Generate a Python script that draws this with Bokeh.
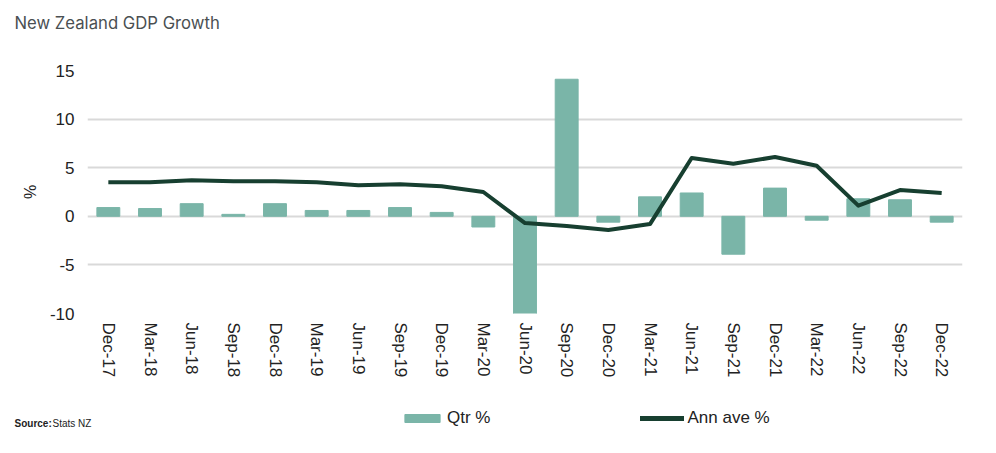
from bokeh.plotting import figure
from bokeh.layouts import column
from bokeh.models import Legend, LegendItem, FixedTicker, ColumnDataSource, Range1d, Label
from bokeh.embed import file_html
from bokeh.resources import INLINE

quarters = ["Dec-17", "Mar-18", "Jun-18", "Sep-18", "Dec-18", "Mar-19", "Jun-19",
            "Sep-19", "Dec-19", "Mar-20", "Jun-20", "Sep-20", "Dec-20", "Mar-21",
            "Jun-21", "Sep-21", "Dec-21", "Mar-22", "Jun-22", "Sep-22", "Dec-22"]
qtr_pct = [0.9, 0.8, 1.3, 0.2, 1.3, 0.6, 0.6, 0.9, 0.4, -1.1, -10.1, 14.1, -0.6,
           2.0, 2.4, -3.9, 2.9, -0.4, 1.8, 1.7, -0.6]
ann_ave = [3.5, 3.5, 3.7, 3.6, 3.6, 3.5, 3.2, 3.3, 3.1, 2.5, -0.7, -1.0, -1.4,
           -0.8, 6.0, 5.4, 6.1, 5.2, 1.1, 2.7, 2.4]
y_ticks = [-10, -5, 0, 5, 10, 15]
y_tick_labels = {t: str(t) for t in y_ticks}

BAR = "#7ab5a8"
LINE = "#173f30"


def strip(height):
    s = figure(width=980, height=height, x_range=Range1d(0, 980), y_range=Range1d(0, height),
               output_backend="svg", toolbar_location=None, x_axis_type=None,
               y_axis_type=None, min_border=0)
    s.frame_align = False
    s.outline_line_color = None
    s.grid.visible = False
    return s


# header strip: title
p0 = strip(60)
p0.add_layout(Label(x=14, y=38, text="New Zealand GDP Growth", text_font="Inter",
                    text_font_size="16.7px", text_color="#4a4f52", text_baseline="middle"))

# main chart
src = ColumnDataSource(dict(q=quarters, qtr=qtr_pct, ann=ann_ave))

p = figure(x_range=quarters, y_range=Range1d(-10, 15), width=980, height=323,
           output_backend="svg", toolbar_location=None,
           min_border_left=87, min_border_right=18, min_border_top=10, min_border_bottom=70)
p.outline_line_color = None
p.border_fill_color = "white"

p.xgrid.grid_line_color = None
p.ygrid.grid_line_color = "#d9d9d9"
p.ygrid.grid_line_width = 2
p.yaxis.ticker = FixedTicker(ticks=y_ticks)
p.yaxis.major_label_overrides = y_tick_labels

for ax in (p.xaxis, p.yaxis):
    ax.axis_line_color = None
    ax.major_tick_line_color = None
    ax.minor_tick_line_color = None
    ax.major_tick_out = 0
    ax.minor_tick_out = 0
    ax.major_label_text_font = "Liberation Sans"
    ax.major_label_text_color = "#222222"

p.yaxis.major_label_text_font_size = "17px"
p.yaxis.major_label_standoff = 13
p.yaxis.axis_label = "%"
p.yaxis.axis_label_text_font = "Liberation Sans"
p.yaxis.axis_label_text_font_style = "normal"
p.yaxis.axis_label_text_font_size = "16px"
p.yaxis.axis_label_text_color = "#222222"
p.yaxis.axis_label_standoff = 8

p.xaxis.major_label_orientation = "vertical"
p.xaxis.major_label_text_font_size = "17px"
p.xaxis.major_label_standoff = 9

p.vbar(x="q", top="qtr", width=0.55, source=src, color=BAR)
p.line(x="q", y="ann", source=src, line_width=4, color=LINE, line_join="round")

# footer strip: legend + source note
p2 = strip(62)
legend_src = ColumnDataSource(dict(i=list(range(len(quarters))), qtr=qtr_pct, ann=ann_ave))
lb = p2.vbar(x="i", top="qtr", width=0.5, source=legend_src, color=BAR, visible=False)
ll = p2.line(x="i", y="ann", source=legend_src, line_width=5, color=LINE,
             line_cap="round", visible=False)

legend = Legend(items=[LegendItem(label="Qtr %", renderers=[lb]),
                       LegendItem(label="Ann ave %", renderers=[ll])],
                orientation="horizontal", location=(400, 17),
                glyph_width=44, glyph_height=10, label_standoff=3, spacing=150,
                padding=0, margin=0, border_line_color=None, background_fill_alpha=0,
                inactive_fill_alpha=0,
                label_text_font="Liberation Sans", label_text_font_size="17px",
                label_text_color="#222222")
p2.add_layout(legend, "center")

p2.add_layout(Label(x=14, y=22, text="Source:", text_font="Liberation Sans",
                    text_font_size="10px", text_font_style="bold", text_color="#222222",
                    text_baseline="middle"))
p2.add_layout(Label(x=52, y=22, text="Stats NZ", text_font="Liberation Sans",
                    text_font_size="10px", text_color="#222222", text_baseline="middle"))

layout = column(p0, p, p2, spacing=0)
open("out.html", "w").write(file_html(layout, INLINE))
